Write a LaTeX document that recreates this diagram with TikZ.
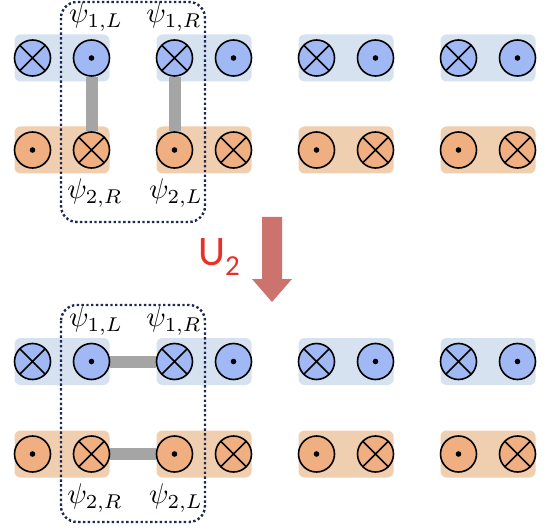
\documentclass[tikz,border=0pt]{standalone}
\usepackage{fontspec}
\newfontfamily\labelsans{Carlito}
\definecolor{spinblue}{RGB}{160,185,245}
\definecolor{boxblue}{RGB}{214,226,240}
\definecolor{spinorange}{RGB}{240,175,128}
\definecolor{boxorange}{RGB}{240,206,176}
\definecolor{bargray}{RGB}{165,165,165}
\definecolor{framenavy}{RGB}{30,40,80}
\definecolor{arrowred}{RGB}{205,115,110}
\definecolor{labelred}{RGB}{232,48,40}
\pgfdeclarelayer{boxes}
\pgfdeclarelayer{bars}
\pgfsetlayers{boxes,bars,main}
\begin{document}
\begin{tikzpicture}[x=1pt,y=1pt,
  spin/.style={circle,draw=black,line width=1.6pt,minimum size=36pt,inner sep=0pt},
  bluespin/.style={spin,fill=spinblue},
  orangespin/.style={spin,fill=spinorange},
  crossmark/.style={path picture={\draw[black,line width=1.6pt]
      (path picture bounding box.north west)--(path picture bounding box.south east)
      (path picture bounding box.north east)--(path picture bounding box.south west);}},
  dotmark/.style={path picture={\fill[black] (path picture bounding box.center) circle (2.8pt);}},
  cell/.style={rectangle,rounded corners=6pt,minimum width=95pt,minimum height=47pt,inner sep=0pt},
  bluecell/.style={cell,fill=boxblue},
  orangecell/.style={cell,fill=boxorange},
  bond/.style={draw=bargray,line width=12pt},
  pairframe/.style={draw=framenavy,line width=2.4pt,dash pattern=on 2.4pt off 2.4pt,rounded corners=16pt},
  psilabel/.style={font=\fontsize{10}{12}\selectfont,inner sep=0pt,scale=2.85,transform shape}
]
\useasboundingbox (0,0) rectangle (556,-529);

% cells of the chain, before and after the gate
\begin{pgfonlayer}{boxes}
\foreach \k in {0,1,2,3}{
  \pgfmathsetmacro\xc{62+142*\k}
  \node[bluecell] (tb\k) at (\xc,-58) {};
  \node[orangecell] (to\k) at (\xc,-150) {};
  \node[bluecell] (bb\k) at (\xc,-361.5) {};
  \node[orangecell] (bo\k) at (\xc,-454) {};
}
\end{pgfonlayer}

% spins: blue row (x, dot), orange row (dot, x)
\foreach \k in {0,1,2,3}{
  \pgfmathsetmacro\xl{32.5+142*\k}
  \pgfmathsetmacro\xr{91.5+142*\k}
  \node[bluespin,crossmark] (tbA\k) at (\xl,-58) {};
  \node[bluespin,dotmark] (tbB\k) at (\xr,-58) {};
  \node[orangespin,dotmark] (toA\k) at (\xl,-150) {};
  \node[orangespin,crossmark] (toB\k) at (\xr,-150) {};
  \node[bluespin,crossmark] (bbA\k) at (\xl,-361.5) {};
  \node[bluespin,dotmark] (bbB\k) at (\xr,-361.5) {};
  \node[orangespin,dotmark] (boA\k) at (\xl,-454) {};
  \node[orangespin,crossmark] (boB\k) at (\xr,-454) {};
}

% bonds
\begin{pgfonlayer}{bars}
\draw[bond] (tbB0) -- (toB0);
\draw[bond] (tbA1) -- (toA1);
\draw[bond] (bbB0) -- (bbA1);
\draw[bond] (boB0) -- (boA1);
\end{pgfonlayer}

% dotted frames around the coupled pair
\draw[pairframe] (61,-2) rectangle (205,-222);
\draw[pairframe] (61,-305) rectangle (205,-522);

% labels
\node[psilabel] (u1L) at (96,-17) {$\psi_{1,L}$};
\node[psilabel] (u1R) at (174,-17) {$\psi_{1,R}$};
\node[psilabel] (u2R) at (95,-193) {$\psi_{2,R}$};
\node[psilabel] (u2L) at (176,-193) {$\psi_{2,L}$};
\node[psilabel] (d1L) at (96,-321) {$\psi_{1,L}$};
\node[psilabel] (d1R) at (174,-321) {$\psi_{1,R}$};
\node[psilabel] (d2R) at (95,-498) {$\psi_{2,R}$};
\node[psilabel] (d2L) at (176,-498) {$\psi_{2,L}$};

% gate arrow
\fill[arrowred] (262,-217) -- (282,-217) -- (282,-279) -- (292,-279)
  -- (272,-302) -- (252,-279) -- (262,-279) -- cycle;
\node[text=labelred,inner sep=0pt,anchor=base west] (gate) at (198,-265)
  {\labelsans\fontsize{42}{44}\selectfont U\raisebox{-10pt}{\fontsize{29}{30}\selectfont 2}};
\end{tikzpicture}
\end{document}
